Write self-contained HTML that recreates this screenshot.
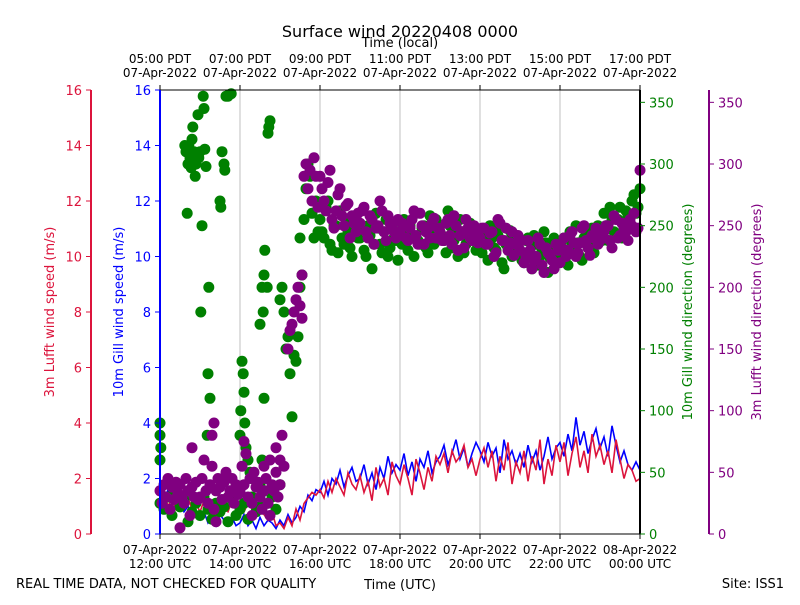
<!DOCTYPE html>
<html><head><meta charset="utf-8"><style>
body{margin:0;background:#fff}
svg{font-family:"DejaVu Sans","Liberation Sans",sans-serif}
</style></head><body>
<svg id="c" width="800" height="600" xmlns="http://www.w3.org/2000/svg">
<rect width="800" height="600" fill="#fff"/>
<g id="grid"></g><g id="series"></g><g id="axes"></g>
</svg>
<script>
const speedTicks=[0,2,4,6,8,10,12,14,16];
const dirTicks=[0,50,100,150,200,250,300,350];
const timeTicks=[0,2,4,6,8,10,12];
const utcLabels=[["07-Apr-2022","12:00 UTC"],["07-Apr-2022","14:00 UTC"],["07-Apr-2022","16:00 UTC"],["07-Apr-2022","18:00 UTC"],["07-Apr-2022","20:00 UTC"],["07-Apr-2022","22:00 UTC"],["08-Apr-2022","00:00 UTC"]];
const localLabels=[["05:00 PDT","07-Apr-2022"],["07:00 PDT","07-Apr-2022"],["09:00 PDT","07-Apr-2022"],["11:00 PDT","07-Apr-2022"],["13:00 PDT","07-Apr-2022"],["15:00 PDT","07-Apr-2022"],["17:00 PDT","07-Apr-2022"]];
const blueSpeed=[1.5,1.2,1.6,1.0,1.4,1.1,0.8,1.0,0.7,0.6,0.5,0.8,0.4,0.6,0.3,0.7,0.5,0.4,0.6,0.3,0.4,0.7,0.3,0.5,0.2,0.6,0.3,0.5,0.4,0.2,0.5,0.3,0.7,0.4,0.6,1.0,0.8,1.4,1.2,1.6,1.5,1.9,1.4,2.0,1.8,2.3,1.7,2.1,2.4,1.9,2.0,2.5,1.8,2.2,1.6,2.4,2.0,2.8,2.2,2.5,2.3,2.9,2.1,2.6,1.9,2.7,2.4,3.0,2.2,2.6,2.8,3.2,2.5,2.9,3.4,2.7,3.1,2.4,2.9,3.3,3.0,2.6,3.3,2.8,3.1,2.2,3.4,2.7,3.0,2.5,2.9,2.4,3.2,2.6,3.0,2.3,2.8,3.5,2.7,3.1,3.3,2.8,3.6,3.0,4.2,3.2,3.7,2.9,3.4,3.8,3.1,3.5,2.8,3.9,3.2,2.6,3.0,2.5,2.3,2.6,2.3];
const redSpeed=[1.2,1.5,1.0,1.3,0.9,1.2,1.0,1.3,0.9,1.1,0.8,1.2,0.9,1.0,0.7,1.1,0.9,0.8,1.2,0.9,1.0,0.8,1.1,0.9,0.6,1.0,0.7,0.5,0.8,0.3,0.4,0.2,0.6,0.3,0.9,0.5,1.1,1.3,1.5,1.4,1.6,1.3,1.9,1.5,2.0,1.7,1.4,2.2,1.8,1.6,2.1,1.5,1.9,1.2,2.4,1.7,2.0,1.4,2.6,2.1,1.8,2.5,2.0,1.4,2.7,2.2,1.6,2.4,1.9,2.8,2.5,2.9,2.2,3.0,2.6,2.8,3.2,2.4,2.7,2.1,2.7,3.1,2.4,3.0,1.9,2.8,2.3,3.3,1.8,2.6,2.2,3.0,1.9,2.8,2.3,3.4,1.8,2.7,2.1,3.2,2.6,3.3,2.1,2.9,3.5,2.4,3.0,2.2,3.6,2.8,3.2,2.5,3.0,2.2,3.4,2.7,2.0,2.5,2.3,1.9,2.0];
const greenEarlyLow=[25,20,30,15,35,22,28,10,18,25,15,30,20,12,25,18,22,10,28,15,20,25,12,30,18,22,35,25,30,20,40];
const greenExtraT=[0,0,0,0.02,0.62,0.65,0.68,0.7,0.72,0.75,0.78,0.8,0.82,0.85,0.88,0.9,0.92,0.95,0.97,1.0,1.02,1.05,1.08,1.1,1.12,1.15,1.18,1.2,1.22,1.25,1.5,1.52,1.55,1.6,1.62,1.65,1.7,1.72,1.78,2.0,2.02,2.05,2.08,2.1,2.12,2.15,2.2,2.25,2.3,2.5,2.55,2.6,2.62,2.7,2.72,2.75,2.6,2.58,2.68,2.5,2.55,3.0,3.05,3.1,3.15,3.2,3.25,3.3,3.35,3.4,3.45,3.5,3.5,3.55,3.6,3.65,3.7,3.75,3.8,3.85,3.9,3.95];
const greenExtraD=[90,80,60,70,315,310,260,300,315,305,297,320,330,310,290,300,305,340,305,310,180,250,355,345,312,298,80,130,200,110,270,265,310,300,295,355,355,356,357,80,100,140,130,115,90,70,60,50,45,170,200,210,230,325,330,335,110,180,200,40,60,190,200,180,150,160,130,95,145,140,160,200,240,210,255,280,300,290,260,240,270,245];
const greenA=[255,240,270,230,250,262,235,245,225,258,240,230,250,215,260,235,245,225,250,238,245,255,230,240,260,235,250,228,242,255,250,238,262,232,245,255,228,240,248,230,235,245,222,240,230,250,215,238,225,242,230,220,240,215,235,225,245,212,232,222,230,240,218,235,250,225,240,232,248,238,245,260,238,255,242,265,250,258,270,260,280];
const greenB=[245,265,235,250,228,240,255,232,248,240,250,225,242,235,248,228,255,232,240,222,235,242,250,225,238,248,232,258,235,240,242,228,250,238,225,245,235,252,238,245,228,238,250,232,242,220,235,246,230,235,222,238,228,242,218,230,236,224,240,228,238,225,245,230,236,222,245,235,228,250,238,250,265,245,255,240,262,248,275,265];
const purpleEarlyLow=[35,25,40,30,45,20,38,28,42,33,40,30,25,45,35,15,38,30,42,28,30,45,60,35,25,40,55,20,35,45,38,28,42,50,30,35,45,25,40,32,35,55,40,65,30,45,25,50,38,42,30,20,35,45,25,15,40,35,50,30,40];
const purpleExtraT=[0.8,1.3,1.35,2.1,2.6,2.75,2.9,3.0,3.05,3.1,3.2,3.25,3.3,3.35,3.4,3.45,3.5,3.55,3.55,3.6,3.65,3.7,3.75,3.8,3.85,3.9,3.95,0.5,1.4,2.3];
const purpleExtraD=[70,80,90,75,55,60,70,60,80,55,150,165,170,180,190,200,185,210,175,290,300,280,295,270,305,290,265,5,10,15];
const purpleA=[290,270,285,255,262,280,250,268,258,245,252,265,240,255,248,270,245,258,250,240,245,250,238,255,242,260,235,248,252,240,245,238,255,235,250,242,232,248,238,245,240,248,235,245,228,252,238,230,245,235,230,220,238,215,225,235,212,228,222,235,220,240,230,245,225,236,250,232,242,248,238,245,250,232,255,242,248,238,250,245,295];
const purpleB=[280,262,295,248,275,258,266,240,252,260,262,245,258,235,250,262,238,252,245,255,252,240,248,262,235,250,245,240,256,248,238,252,242,258,230,245,255,240,250,236,248,235,244,225,255,238,248,236,226,242,238,225,230,222,240,218,232,226,215,230,232,225,242,236,228,248,238,226,240,235,242,250,238,258,240,252,245,255,260,248];

const X0=160,X1=640,Y0=534,Y1=90;
const xs=t=>X0+t/12*(X1-X0);
const ys=v=>Y0-v/16*(Y0-Y1);
const yd=d=>Y0-d/360*(Y0-Y1);
const NS="http://www.w3.org/2000/svg";
function mk(tag,attrs,parent,text){const e=document.createElementNS(NS,tag);for(const k in attrs)e.setAttribute(k,attrs[k]);if(text!==undefined)e.textContent=text;parent.appendChild(e);return e;}
const grid=document.getElementById('grid'),series=document.getElementById('series'),axes=document.getElementById('axes');

timeTicks.forEach(t=>{const l=mk('line',{x1:xs(t),x2:xs(t),y1:Y1,y2:Y0,stroke:'#b0b0b0','stroke-width':0.8},grid);

});

function line(vals,color,name){const pts=vals.map((v,i)=>xs(i*0.1).toFixed(1)+','+ys(v).toFixed(1)).join(' ');
const p=mk('polyline',{points:pts,fill:'none',stroke:color,'stroke-width':1.6},series);

}
line(blueSpeed,'#0000ff','gill-speed-line');
line(redSpeed,'#dc143c','lufft-speed-line');

function dots(ts,ds,color,name){const g=mk('g',{fill:color},series);


ds.forEach((d,i)=>{if(ts[i]===undefined)return;mk('circle',{cx:xs(ts[i]).toFixed(1),cy:yd(d).toFixed(1),r:5.5},g);});}
const step=(arr,start,dt)=>arr.map((_,i)=>start+i*dt);
dots(step(greenEarlyLow,0,0.1),greenEarlyLow,'#008000','gill-direction-points');
dots(greenExtraT,greenExtraD,'#008000','gill-direction-points-2');
dots(step(greenA,4,0.1),greenA,'#008000','gill-direction-points-3');
dots(step(greenB,4.05,0.1),greenB,'#008000','gill-direction-points-4');
dots(step(purpleEarlyLow,0,0.05),purpleEarlyLow,'#800080','lufft-direction-points');
dots(purpleExtraT,purpleExtraD,'#800080','lufft-direction-points-2');
dots(step(purpleA,4,0.1),purpleA,'#800080','lufft-direction-points-3');
dots(step(purpleB,4.05,0.1),purpleB,'#800080','lufft-direction-points-4');

mk('line',{x1:X0,x2:X1,y1:Y1,y2:Y1,stroke:'#000','stroke-width':1},axes);
mk('line',{x1:X0,x2:X1,y1:Y0,y2:Y0,stroke:'#000','stroke-width':1},axes);
mk('line',{x1:X1,x2:X1,y1:Y1,y2:Y0,stroke:'#000','stroke-width':2},axes);
mk('line',{x1:X0,x2:X0,y1:Y1,y2:Y0,stroke:'#0000ff','stroke-width':2},axes);
mk('line',{x1:91,x2:91,y1:Y1,y2:Y0,stroke:'#dc143c','stroke-width':2},axes);
mk('line',{x1:709,x2:709,y1:Y1,y2:Y0,stroke:'#800080','stroke-width':2},axes);

speedTicks.forEach(v=>{
 mk('line',{x1:86,x2:91,y1:ys(v),y2:ys(v),stroke:'#dc143c'},axes);
 const a=mk('text',{x:82,y:ys(v)+5,'text-anchor':'end','font-size':13,fill:'#dc143c'},axes,String(v));
 
 
 mk('line',{x1:155,x2:160,y1:ys(v),y2:ys(v),stroke:'#0000ff'},axes);
 const b=mk('text',{x:151,y:ys(v)+5,'text-anchor':'end','font-size':13,fill:'#0000ff'},axes,String(v));
 
 
});
dirTicks.forEach(d=>{
 mk('line',{x1:640,x2:645,y1:yd(d),y2:yd(d),stroke:'#008000'},axes);
 const a=mk('text',{x:649,y:yd(d)+5,'font-size':13,fill:'#008000'},axes,String(d));
 
 
 mk('line',{x1:709,x2:714,y1:yd(d),y2:yd(d),stroke:'#800080'},axes);
 const b=mk('text',{x:718,y:yd(d)+5,'font-size':13,fill:'#800080'},axes,String(d));
 
 
});
timeTicks.forEach((t,i)=>{
 mk('line',{x1:xs(t),x2:xs(t),y1:Y0,y2:Y0+5,stroke:'#000'},axes);
 mk('line',{x1:xs(t),x2:xs(t),y1:Y1,y2:Y1-5,stroke:'#000'},axes);
 const a=mk('text',{x:xs(t),y:554,'text-anchor':'middle','font-size':12},axes,utcLabels[i][0]);
 
 
 const b=mk('text',{x:xs(t),y:568,'text-anchor':'middle','font-size':12},axes,utcLabels[i][1]);
 
 
 const c=mk('text',{x:xs(t),y:63,'text-anchor':'middle','font-size':12},axes,localLabels[i][0]);
 
 
 const d=mk('text',{x:xs(t),y:77,'text-anchor':'middle','font-size':12},axes,localLabels[i][1]);
 
 
});
</script>
<svg width="800" height="600" style="position:absolute;left:0;top:0" xmlns="http://www.w3.org/2000/svg">
<text x="400" y="37" text-anchor="middle" font-size="16">Surface wind 20220408 0000</text>
<text x="400" y="47" text-anchor="middle" font-size="13">Time (local)</text>
<text x="400" y="589" text-anchor="middle" font-size="13">Time (UTC)</text>
<text x="16" y="588" font-size="13">REAL TIME DATA, NOT CHECKED FOR QUALITY</text>
<text x="784" y="588" text-anchor="end" font-size="13">Site: ISS1</text>
<text transform="translate(54,312) rotate(-90)" text-anchor="middle" font-size="13" fill="#dc143c">3m Lufft wind speed (m/s)</text>
<text transform="translate(123,312) rotate(-90)" text-anchor="middle" font-size="13" fill="#0000ff">10m Gill wind speed (m/s)</text>
<text transform="translate(692,312) rotate(-90)" text-anchor="middle" font-size="13" fill="#008000">10m Gill wind direction (degrees)</text>
<text transform="translate(761,312) rotate(-90)" text-anchor="middle" font-size="13" fill="#800080">3m Lufft wind direction (degrees)</text>
</svg>
</body></html>
